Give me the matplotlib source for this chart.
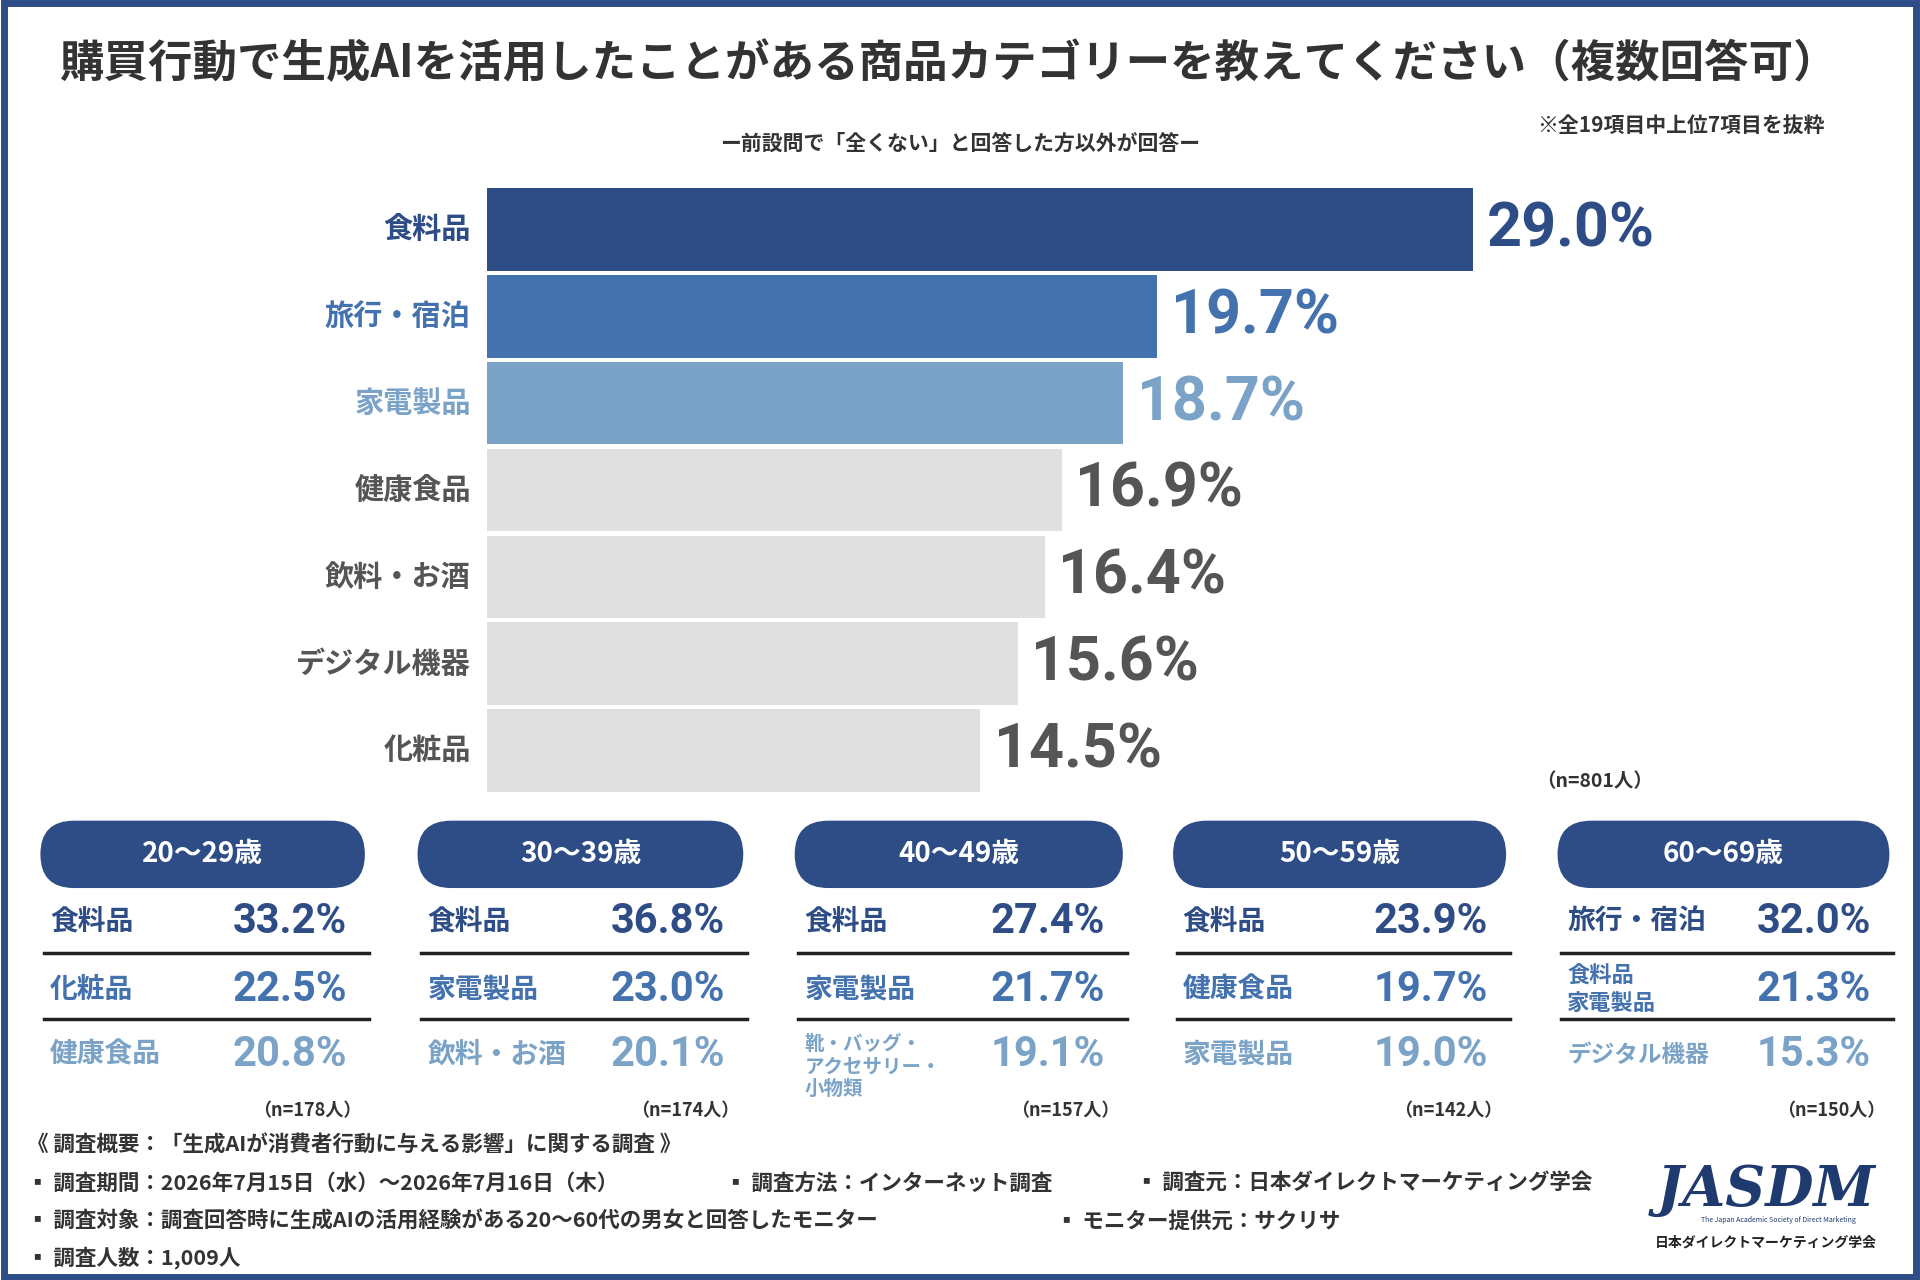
import matplotlib
matplotlib.use('Agg')
import matplotlib.pyplot as plt
from matplotlib.patches import FancyBboxPatch, Rectangle

plt.rcParams['font.family'] = ['Noto Sans CJK JP', 'DejaVu Sans']

categories = ['食料品', '旅行・宿泊', '家電製品', '健康食品', '飲料・お酒', 'デジタル機器', '化粧品']
values = [29.0, 19.7, 18.7, 16.9, 16.4, 15.6, 14.5]

ages = ['20〜29歳', '30〜39歳', '40〜49歳', '50〜59歳', '60〜69歳']
age_items = [
    ['食料品', '化粧品', '健康食品'],
    ['食料品', '家電製品', '飲料・お酒'],
    ['食料品', '家電製品', '靴・バッグ・\nアクセサリー・\n小物類'],
    ['食料品', '健康食品', '家電製品'],
    ['旅行・宿泊', '食料品\n家電製品', 'デジタル機器'],
]
age_values = [
    [33.2, 22.5, 20.8],
    [36.8, 23.0, 20.1],
    [27.4, 21.7, 19.1],
    [23.9, 19.7, 19.0],
    [32.0, 21.3, 15.3],
]
age_n = [178, 174, 157, 142, 150]

dark, mid, light, grey = '#2e4d87', '#4472ae', '#7aa3c7', '#e0e0e0'
bar_colors = [dark, mid, light] + [grey] * 4
text_colors = [dark, mid, light] + ['#555555'] * 4
row_colors = [dark, mid, light]

W, H = 1568, 1045
def fx(x): return x / W
def fy(y): return 1 - y / H

fig = plt.figure(figsize=(19.2, 12.8), dpi=100)
fig.patches.append(Rectangle((0.002, 0.002), 0.996, 0.996, transform=fig.transFigure,
                             fill=False, edgecolor=dark, linewidth=5))

fig.text(0.494, fy(52), '購買行動で生成AIを活用したことがある商品カテゴリーを教えてください（複数回答可）',
         ha='center', va='center', fontsize=32, fontweight='bold', color='#333333')
fig.text(0.5, fy(117), 'ー前設問で「全くない」と回答した方以外が回答ー', ha='center', va='center',
         fontsize=15, fontweight='bold', color='#333333')
fig.text(fx(1490), fy(102), '※全19項目中上位7項目を抜粋', ha='right', va='center',
         fontsize=15, fontweight='bold', color='#333333')

# main bar chart
ax = fig.add_axes([fx(398), fy(648), fx(1490 - 398), (648 - 152) / H])
y = list(range(len(categories)))
ax.barh(y, values, height=0.95, color=bar_colors)
ax.set_xlim(0, (1490 - 398) / ((1203 - 398) / 29.0))
ax.set_ylim(len(categories) - 0.5, -0.5)
ax.axis('off')
for i, (c, v) in enumerate(zip(categories, values)):
    ax.text(v + 0.4, i, f'{v:.1f}%', va='center', ha='left', fontsize=44,
            fontweight='bold', color=text_colors[i], family=['Roboto', 'DejaVu Sans'])
    ax.annotate(c, (0, i), xytext=(-12, 0), textcoords='offset points', ha='right',
                va='center', fontsize=21, fontweight='bold', color=text_colors[i])
fig.text(fx(1350), fy(638), '（n=801人）', ha='right', va='center', fontsize=14,
         fontweight='bold', color='#333333')

# age panels
pills = [(33, 298), (341, 607), (649, 917), (958, 1230), (1272, 1543)]
row_y = [752, 808, 861]
for k, (x0, x1) in enumerate(pills):
    fig.patches.append(FancyBboxPatch((fx(x0), fy(725)), fx(x1 - x0), 55 / H,
                                      boxstyle='round,pad=0,rounding_size=0.0175',
                                      transform=fig.transFigure, facecolor=dark,
                                      edgecolor='none', mutation_aspect=1.5))
    fig.text(fx((x0 + x1) / 2), fy(697), ages[k], ha='center', va='center',
             fontsize=20, fontweight='bold', color='white')
    for r in range(3):
        label = age_items[k][r]
        fs = 20 if '\n' not in label else (14 if label.count('\n') > 1 else 16)
        if label.startswith('デジタル'):
            fs = 17
        yy = row_y[r] + (10 if label.count('\n') > 1 else 0)
        fig.text(fx(x0 + 8), fy(yy), label, ha='left', va='center', fontsize=fs,
                 fontweight='bold', color=row_colors[r], linespacing=1.2)
        fig.text(fx(x1 - 15), fy(row_y[r]), f'{age_values[k][r]:.1f}%', ha='right',
                 va='center', fontsize=30, fontweight='bold', color=row_colors[r],
                 family=['Roboto', 'DejaVu Sans'])
    for ly in (778, 832):
        fig.add_artist(plt.Line2D([fx(x0 + 3), fx(x1 + 3)], [fy(ly), fy(ly)],
                                  transform=fig.transFigure, color='#222222', linewidth=2.5))
    fig.text(fx(x1 - 3), fy(907), f'（n={age_n[k]}人）', ha='right', va='center',
             fontsize=13, fontweight='bold', color='#333333')

# footer
foot = [
    (22, 935, '《 調査概要：「生成AIが消費者行動に与える影響」に関する調査 》'),
    (22, 966, '▪ 調査期間：2026年7月15日（水）〜2026年7月16日（木）'),
    (592, 966, '▪ 調査方法：インターネット調査'),
    (928, 966, '▪ 調査元：日本ダイレクトマーケティング学会'),
    (22, 997, '▪ 調査対象：調査回答時に生成AIの活用経験がある20〜60代の男女と回答したモニター'),
    (862, 997, '▪ モニター提供元：サクリサ'),
    (22, 1027, '▪ 調査人数：1,009人'),
]
for x, yy, t in foot:
    fig.text(fx(x), fy(yy), t, ha='left', va='center', fontsize=15.5, fontweight='bold',
             color='#333333')

fig.text(fx(1442), fy(972), 'JASDM', ha='center', va='center', fontsize=40,
         fontweight='bold', color='#1f3a6e', family=['DejaVu Serif'], style='italic')
fig.text(fx(1452), fy(996), 'The Japan Academic Society of Direct Marketing', ha='center',
         va='center', fontsize=5, color='#1f3a6e')
fig.text(fx(1442), fy(1014), '日本ダイレクトマーケティング学会', ha='center', va='center',
         fontsize=10, fontweight='bold', color='#222222')

fig.savefig('out.png', dpi=100, facecolor='white')
